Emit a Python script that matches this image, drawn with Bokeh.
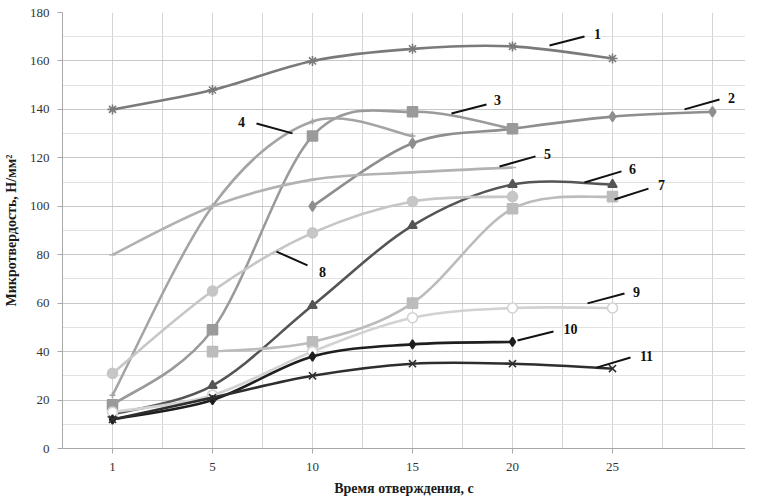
from bokeh.plotting import figure
from bokeh.models import FixedTicker, Range1d, Grid, ColumnDataSource
from bokeh.core.properties import value
from bokeh.embed import file_html
from bokeh.resources import INLINE

# ---- data ----
x_labels = ["1", "5", "10", "15", "20", "25", ""]
positions = [1, 2, 3, 4, 5, 6, 7]

s1 = [140, 148, 160, 165, 166, 161, None]
s2 = [None, None, 100, 126, 132, 137, 139]
s3 = [18, 49, 129, 139, 132, None, None]
s4 = [22, 100, 135, 129, None, None, None]
s5 = [80, 100, 111, 114, 116, None, None]
s6 = [14, 26, 59, 92, 109, 109, None]
s7 = [None, 40, 44, 60, 99, 104, None]
s8 = [31, 65, 89, 102, 104, None, None]
s9 = [15, 22, 40, 54, 58, 58, None]
s10 = [12, 20, 38, 43, 44, None, None]
s11 = [12, 21, 30, 35, 35, 33, None]

series_names = ["1", "2", "3", "4", "5", "6", "7", "8", "9", "10", "11"]
series_values = [s1, s2, s3, s4, s5, s6, s7, s8, s9, s10, s11]

# styles
colors = ["#7a7a7a", "#8e8e8e", "#9a9a9a", "#a4a4a4", "#b2b2b2", "#555555",
          "#bcbcbc", "#c6c6c6", "#d2d2d2", "#1e1e1e", "#2e2e2e"]
markers = ["asterisk", "diamond", "square", "cross", "dash", "triangle",
           "square", "circle", "circle", "diamond", "x"]
msizes = [10, 10, 10, 6, 7, 9, 10, 10, 10, 9, 10]
mfill = [None, "c", "c", None, "c", "c", "c", "c", "white", "c", None]

# label annotations (data coordinates): text pos, leader start, leader end
lab_x = [5.85, 7.19, 4.85, 2.29, 5.35, 6.20, 6.49, 3.10, 6.24, 5.58, 6.34]
lab_y = [171.3, 144.5, 143.7, 134.6, 121.4, 115.2, 108.6, 72.7, 64.8, 49.5, 38.0]
lead_x0 = [5.37, 6.72, 4.39, 2.44, 4.87, 5.72, 6.02, 2.64, 5.75, 5.05, 5.84]
lead_y0 = [166.4, 140.0, 138.3, 134.2, 116.4, 109.8, 102.8, 81.3, 59.9, 44.6, 33.4]
lead_x1 = [5.72, 7.07, 4.74, 2.80, 5.23, 6.09, 6.36, 2.95, 6.12, 5.41, 6.18]
lead_y1 = [170.1, 144.1, 142.0, 130.1, 120.6, 114.4, 107.3, 75.6, 64.0, 48.3, 37.6]

p = figure(frame_width=683, frame_height=436, output_backend="svg",
           toolbar_location=None,
           x_range=Range1d(0.5, 7.33), y_range=Range1d(0, 180),
           min_border_left=61, min_border_right=0, min_border_top=12,
           min_border_bottom=20)
p.outline_line_color = None
p.background_fill_color = "white"

# grids
p.xgrid.ticker = FixedTicker(ticks=[0.5 + 0.5 * i for i in range(15)])
p.xgrid.grid_line_color = "#d4d4d4"
p.ygrid.ticker = FixedTicker(ticks=list(range(0, 181, 20)))
p.ygrid.grid_line_color = "#c8c8c8"
minor = Grid(dimension=1, ticker=FixedTicker(ticks=list(range(10, 180, 20))),
             grid_line_color="#e2e2e2")
p.add_layout(minor)

# axes
p.xaxis.ticker = FixedTicker(ticks=positions[:6])
p.xaxis.major_label_overrides = {pos: lab for pos, lab in zip(positions, x_labels)}
p.yaxis.ticker = FixedTicker(ticks=list(range(0, 181, 20)))
for ax in (p.xaxis, p.yaxis):
    ax.major_label_text_font = "Liberation Serif"
    ax.major_label_text_font_size = "13px"
    ax.major_label_text_color = "#333333"
    ax.axis_line_color = "#a8a8a8"
    ax.major_tick_line_color = "#a8a8a8"
    ax.minor_tick_line_color = None
    ax.major_tick_in = 0
    ax.major_tick_out = 5
    ax.axis_label_text_font = "Liberation Serif"
    ax.axis_label_text_font_style = "bold"
    ax.axis_label_text_font_size = "14px"
    ax.axis_label_text_color = "#1a1a1a"
p.xaxis.major_label_standoff = 9
p.yaxis.major_label_standoff = 8
p.xaxis.axis_label = "Время отверждения, с"
p.yaxis.axis_label = "Микротвердость, Н/мм²"
p.xaxis.axis_label_standoff = 7
p.yaxis.axis_label_standoff = 8


def smooth_segments(xs, ys):
    pts = [(x, y) for x, y in zip(xs, ys) if y is not None]
    seg = dict(x0=[], y0=[], x1=[], y1=[], cx0=[], cy0=[], cx1=[], cy1=[])
    n = len(pts)
    for i in range(n - 1):
        p0 = pts[i - 1] if i > 0 else pts[i]
        p1 = pts[i]
        p2 = pts[i + 1]
        p3 = pts[i + 2] if i + 2 < n else pts[i + 1]
        seg["x0"].append(p1[0]); seg["y0"].append(p1[1])
        seg["x1"].append(p2[0]); seg["y1"].append(p2[1])
        seg["cx0"].append(p1[0] + (p2[0] - p0[0]) / 6.0)
        seg["cy0"].append(p1[1] + (p2[1] - p0[1]) / 6.0)
        seg["cx1"].append(p2[0] - (p3[0] - p1[0]) / 6.0)
        seg["cy1"].append(p2[1] - (p3[1] - p1[1]) / 6.0)
    return seg, pts


for name, vals, col, mk, ms, mf in zip(series_names, series_values, colors,
                                       markers, msizes, mfill):
    seg, pts = smooth_segments(positions, vals)
    p.bezier(x0="x0", y0="y0", x1="x1", y1="y1", cx0="cx0", cy0="cy0",
             cx1="cx1", cy1="cy1", source=ColumnDataSource(seg),
             line_color=col, line_width=2.6)
    fill = col if mf == "c" else mf
    p.scatter([q[0] for q in pts], [q[1] for q in pts], marker=mk, size=ms,
              line_color=col, fill_color=fill, line_width=1.6)

p.segment(lead_x0, lead_y0, lead_x1, lead_y1, line_color="#111111", line_width=2)
p.text(lab_x, lab_y, text=series_names, text_font=value("Liberation Serif"),
       text_font_style="bold", text_font_size="14px", text_color="#111111",
       text_align="center", text_baseline="middle")

open("out.html", "w").write(file_html(p, INLINE))
